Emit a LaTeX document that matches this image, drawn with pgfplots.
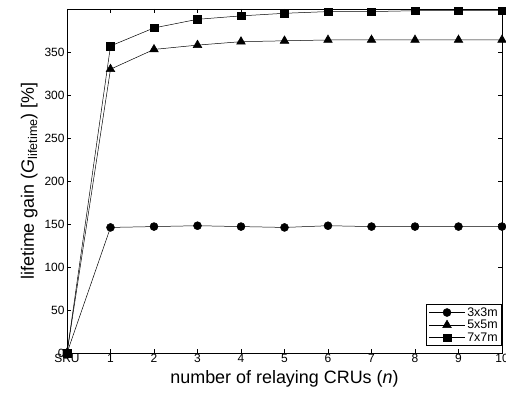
\documentclass[border=0pt]{standalone}
\usepackage{fontspec}
\setmainfont{Liberation Sans}
\usepackage{pgfplots}
\pgfplotsset{compat=1.18}
\begin{document}
\begin{tikzpicture}[x=1bp,y=1bp]
\path[use as bounding box] (-67bp,-40bp) rectangle (439bp,353bp);
\begin{axis}[
  scale only axis,
  width=435bp, height=344bp,
  xmin=0, xmax=10, ymin=0, ymax=400,
  xtick={0,1,2,3,4,5,6,7,8,9,10},
  xticklabels={SRU,1,2,3,4,5,6,7,8,9,10},
  ytick={0,50,100,150,200,250,300,350},
  /pgf/number format/assume math mode=true,
  tick label style={font=\fontsize{12}{12}\selectfont},
  xticklabel style={yshift=2bp},
  yticklabel style={xshift=1bp},
  label style={font=\fontsize{18}{18}\selectfont},
  xlabel={number of relaying CRUs (\textit{n})},
  ylabel={lifetime gain (\textit{G}\textsubscript{lifetime}) [\%]},
  xlabel style={yshift=-1bp},
  ylabel style={yshift=0bp},
  axis line style={line width=0.8pt},
  major tick length=4bp,
  tick style={black, line width=0.5pt},
  clip=false,
  legend style={at={(1,0)}, anchor=south east, yshift=7bp, draw=black, line width=0.6pt,
    font=\fontsize{12.5}{14}\selectfont, inner xsep=2bp, inner ysep=1bp, row sep=-1.5bp,
    legend cell align=left},
  legend image code/.code={\draw[mark repeat=2,mark phase=2,line width=0.5pt] plot coordinates {(0bp,0bp)(18bp,0bp)(36bp,0bp)};},
  every axis plot/.append style={black, line width=0.5pt, mark options={solid, fill=black}},
]
\addplot[mark=*, mark size=4bp] coordinates {(0,0)(1,146)(2,147)(3,148)(4,147)(5,146)(6,148)(7,147)(8,147)(9,147)(10,147)};
\addlegendentry{3x3m}
\addplot[mark=triangle*, mark size=5bp] coordinates {(0,0)(1,330)(2,353)(3,358)(4,362)(5,363)(6,364)(7,364)(8,364)(9,364)(10,364)};
\addlegendentry{5x5m}
\addplot[mark=square*, mark size=3.8bp] coordinates {(0,0)(1,357)(2,378)(3,388)(4,392)(5,395)(6,397)(7,397)(8,398)(9,398)(10,398)};
\addlegendentry{7x7m}
\end{axis}
\end{tikzpicture}
\end{document}
